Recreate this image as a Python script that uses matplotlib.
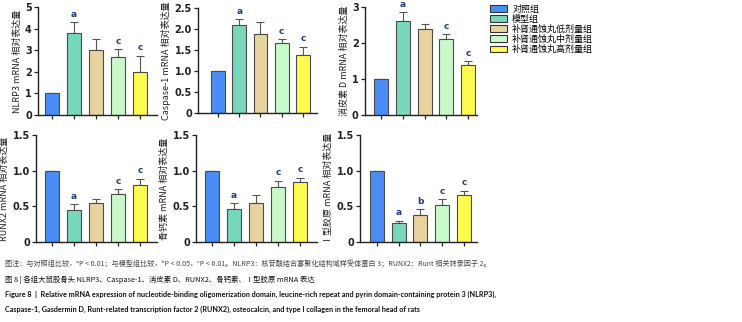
import matplotlib
matplotlib.use("Agg")
import matplotlib.pyplot as plt
from matplotlib.patches import Patch

plt.rcParams['font.family'] = ['Noto Sans CJK SC', 'DejaVu Sans']

groups = ['对照组', '模型组', '补肾通蚀丸低剂量组', '补肾通蚀丸中剂量组', '补肾通蚀丸高剂量组']
colors = ['#4a8ef5', '#78d8bd', '#e6d39e', '#c9f9cb', '#fdfb4e']

# mean and upper error (SD) per panel
nlrp3 = [1.0, 3.8, 3.0, 2.7, 2.0]
nlrp3_err = [0.0, 0.5, 0.52, 0.35, 0.75]
casp1 = [1.0, 2.1, 1.87, 1.66, 1.39]
casp1_err = [0.0, 0.13, 0.29, 0.09, 0.19]
gsdmd = [1.0, 2.6, 2.38, 2.1, 1.4]
gsdmd_err = [0.0, 0.25, 0.15, 0.15, 0.1]
runx2 = [1.0, 0.45, 0.55, 0.67, 0.80]
runx2_err = [0.0, 0.08, 0.05, 0.07, 0.09]
ocn = [1.0, 0.46, 0.55, 0.77, 0.84]
ocn_err = [0.0, 0.08, 0.11, 0.09, 0.06]
col1 = [1.0, 0.26, 0.38, 0.52, 0.66]
col1_err = [0.0, 0.04, 0.08, 0.08, 0.06]

panels = [
    ('NLRP3 mRNA 相对表达量', nlrp3, nlrp3_err, ['', 'a', '', 'c', 'c'], 5, [0, 1, 2, 3, 4, 5], ['0', '1', '2', '3', '4', '5']),
    ('Caspase-1 mRNA 相对表达量', casp1, casp1_err, ['', 'a', '', 'c', 'c'], 2.5, [0, 0.5, 1, 1.5, 2, 2.5], ['0', '0.5', '1.0', '1.5', '2.0', '2.5']),
    ('消皮素 D mRNA 相对表达量', gsdmd, gsdmd_err, ['', 'a', '', 'c', 'c'], 3, [0, 1, 2, 3], ['0', '1', '2', '3']),
    ('RUNX2 mRNA 相对表达量', runx2, runx2_err, ['', 'a', '', 'c', 'c'], 1.5, [0, 0.5, 1, 1.5], ['0', '0.5', '1.0', '1.5']),
    ('骨钙素 mRNA 相对表达量', ocn, ocn_err, ['', 'a', '', 'c', 'c'], 1.5, [0, 0.5, 1, 1.5], ['0', '0.5', '1.0', '1.5']),
    ('Ⅰ型胶原 mRNA 相对表达量', col1, col1_err, ['', 'a', 'b', 'c', 'c'], 1.5, [0, 0.5, 1, 1.5], ['0', '0.5', '1.0', '1.5']),
]

# axes boxes in pixels: left, right, top, bottom ; xlim
W, H = 742, 322
boxes = [
    (38, 157, 7, 115, (-0.64, 4.77)),
    (198, 317, 8, 113, (-0.94, 4.66)),
    (365, 477, 7, 115, (-0.74, 4.41)),
    (36, 157, 135, 242, (-0.73, 4.77)),
    (196, 317, 135, 242, (-0.73, 4.77)),
    (360, 477, 135, 242, (-0.78, 4.6)),
]

fig = plt.figure(figsize=(W / 100, H / 100), dpi=100)

for (ylab, vals, errs, sig, ymax, yt, ytl), (l, r, t, b, xl) in zip(panels, boxes):
    ax = fig.add_axes([l / W, 1 - b / H, (r - l) / W, (b - t) / H])
    x = list(range(len(vals)))
    ax.bar(x, vals, width=0.64, color=colors, edgecolor='#4a4a4a', linewidth=0.8, zorder=2)
    ax.errorbar(x, vals, yerr=[[0] * len(errs), errs], fmt='none', ecolor='#555555',
                elinewidth=0.8, capsize=3, capthick=0.8, zorder=1)
    for xi, v, e, s in zip(x, vals, errs, sig):
        if s:
            ax.annotate(s, (xi, v + e), xytext=(0, 2.5), textcoords='offset points',
                        ha='center', va='bottom', fontsize=6.5, fontweight='bold',
                        color='#1f3d7a', family='DejaVu Sans')
    ax.set_xlim(*xl)
    ax.set_ylim(0, ymax)
    ax.set_xticks(x)
    ax.set_xticklabels([])
    ax.set_yticks(yt)
    ax.set_yticklabels(ytl, fontsize=7, fontweight='bold', color='#222222')
    for tl in ax.get_yticklabels():
        tl.set_family('DejaVu Sans')
    ax.tick_params(direction='out', length=3, width=0.9, pad=1.5, colors='#222222')
    for sp in ['top', 'right']:
        ax.spines[sp].set_visible(False)
    for sp in ['left', 'bottom']:
        ax.spines[sp].set_linewidth(1.0)
        ax.spines[sp].set_color('#222222')
    ax.set_ylabel(ylab, fontsize=6.5, labelpad=2.5, color='#222222')

handles = [Patch(facecolor=c, edgecolor='#333333', linewidth=0.8) for c in colors]
fig.legend(handles, groups, loc='upper left', bbox_to_anchor=(486 / W, 1 - 1 / H),
           frameon=False, fontsize=6.5, handlelength=1.9, handleheight=0.75,
           labelspacing=0.1, handletextpad=0.6, borderaxespad=0)

fig.text(5 / W, 1 - 264 / H,
         '图注：与对照组比较，ᵃP < 0.01；与模型组比较，ᵇP < 0.05，ᶜP < 0.01。NLRP3：核苷酸结合寡聚化结构域样受体蛋白 3；RUNX2：Runt 相关转录因子 2。',
         fontsize=5.1, color='#444444', va='center', ha='left')
fig.text(5 / W, 1 - 280 / H,
         '图 8 | 各组大鼠股骨头 NLRP3、Caspase-1、消皮素 D、RUNX2、骨钙素、Ⅰ型胶原 mRNA 表达',
         fontsize=5.3, color='#111111', va='center', ha='left')
fig.text(5 / W, 1 - 294 / H,
         'Figure 8  |  Relative mRNA expression of nucleotide-binding oligomerization domain, leucine-rich repeat and pyrin domain-containing protein 3 (NLRP3),',
         fontsize=5.2, color='#111111', va='center', ha='left',
         family='Lato', fontweight='bold')
fig.text(5 / W, 1 - 309 / H,
         'Caspase-1, Gasdermin D, Runt-related transcription factor 2 (RUNX2), osteocalcin, and type I collagen in the femoral head of rats',
         fontsize=5.2, color='#111111', va='center', ha='left',
         family='Lato', fontweight='bold')

fig.savefig('out.png', dpi=100)
